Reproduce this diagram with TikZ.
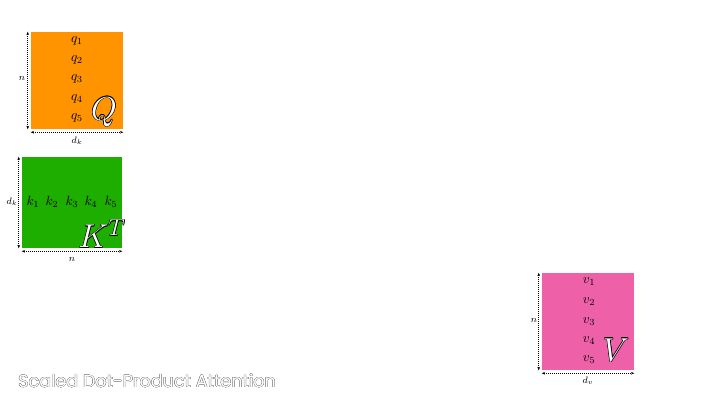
\documentclass[tikz,border=0pt]{standalone}
\usepackage{fontspec}
\newfontfamily\titlefont{Poppins}
\usetikzlibrary{arrows.meta}
\definecolor{qorange}{RGB}{255,148,0}
\definecolor{kgreen}{RGB}{30,174,0}
\definecolor{vpink}{RGB}{238,96,168}
% outlined text: #1 stroke colour, #2 offset, #3 diagonal offset, #4 text
\newcommand{\outlcopy}[4]{\rlap{\raisebox{#3}{\hspace{#2}\textcolor{#1}{#4}}}}
\newcommand{\outltext}[4]{\leavevmode
  \outlcopy{#1}{#2}{0pt}{#4}\outlcopy{#1}{-#2}{0pt}{#4}%
  \outlcopy{#1}{0pt}{#2}{#4}\outlcopy{#1}{0pt}{-#2}{#4}%
  \outlcopy{#1}{#3}{#3}{#4}\outlcopy{#1}{-#3}{#3}{#4}%
  \outlcopy{#1}{#3}{-#3}{#4}\outlcopy{#1}{-#3}{-#3}{#4}%
  \textcolor{white}{#4}}
\begin{document}
\begin{tikzpicture}[x=0.75pt,y=-0.75pt,
  matbox/.style={draw=none,inner sep=0pt},
  tallbox/.style={matbox,minimum width=69pt,minimum height=72.75pt},
  dimarrow/.style={densely dotted,line width=0.5pt,{Stealth[length=2.5pt,width=2pt]}-{Stealth[length=2.5pt,width=2pt]}},
  vec/.style={inner sep=0pt,font=\fontsize{10}{11}\selectfont},
  dimlabel/.style={inner sep=0pt,font=\fontsize{7}{8}\selectfont},
  bigname/.style={inner sep=0pt,font=\fontsize{23}{24}\selectfont}]
\useasboundingbox (0,0) rectangle (720,405);
% Q
\node[tallbox,fill=qorange] (Q) at (77,80.5) {};
\foreach \i/\y in {1/41,2/60,3/79,4/99,5/118}{\node[vec] (q\i) at (77,\y) {$q_{\i}$};}
\node[bigname] (Qn) at (104,112) {\outltext{black}{0.45pt}{0.32pt}{$Q$}};
\draw[dimarrow] ([xshift=-2.25pt]Q.north west) -- ([xshift=-2.25pt]Q.south west);
\draw[dimarrow] ([yshift=-2.25pt]Q.south west) -- ([yshift=-2.25pt]Q.south east);
\node[dimlabel] (Qrows) at (22,78) {$n$};
\node[dimlabel] (Qcols) at (77,141) {$d_k$};
% K^T
\node[matbox,fill=kgreen,minimum width=75pt,minimum height=68.25pt] (K) at (72,202.5) {};
\foreach \i/\x in {1/33,2/52,3/72,4/91,5/111}{\node[vec] (k\i) at (\x,202) {$k_{\i}$};}
\node[bigname] (Kn) at (102,234) {\outltext{black}{0.45pt}{0.32pt}{$K^T$}};
\draw[dimarrow] ([xshift=-2.25pt]K.north west) -- ([xshift=-2.25pt]K.south west);
\draw[dimarrow] ([yshift=-2.25pt]K.south west) -- ([yshift=-2.25pt]K.south east);
\node[dimlabel] (Krows) at (12,202) {$d_k$};
\node[dimlabel] (Kcols) at (72,259) {$n$};
% V
\node[tallbox,fill=vpink] (V) at (588,321.5) {};
\foreach \i/\y in {1/282,2/302,3/322,4/341,5/360}{\node[vec] (v\i) at (589,\y) {$v_{\i}$};}
\node[bigname] (Vn) at (616,350) {\outltext{black}{0.45pt}{0.32pt}{$V$}};
\draw[dimarrow] ([xshift=-2.25pt]V.north west) -- ([xshift=-2.25pt]V.south west);
\draw[dimarrow] ([yshift=-2.25pt]V.south west) -- ([yshift=-2.25pt]V.south east);
\node[dimlabel] (Vrows) at (534,320) {$n$};
\node[dimlabel] (Vcols) at (588,381) {$d_v$};
% title
\node[anchor=west,inner sep=0pt,font=\titlefont\fontsize{13.2}{15}\selectfont] (title) at (18,381)
  {\outltext{black!55}{0.22pt}{0.16pt}{Scaled Dot-Product Attention}};
\end{tikzpicture}
\end{document}
